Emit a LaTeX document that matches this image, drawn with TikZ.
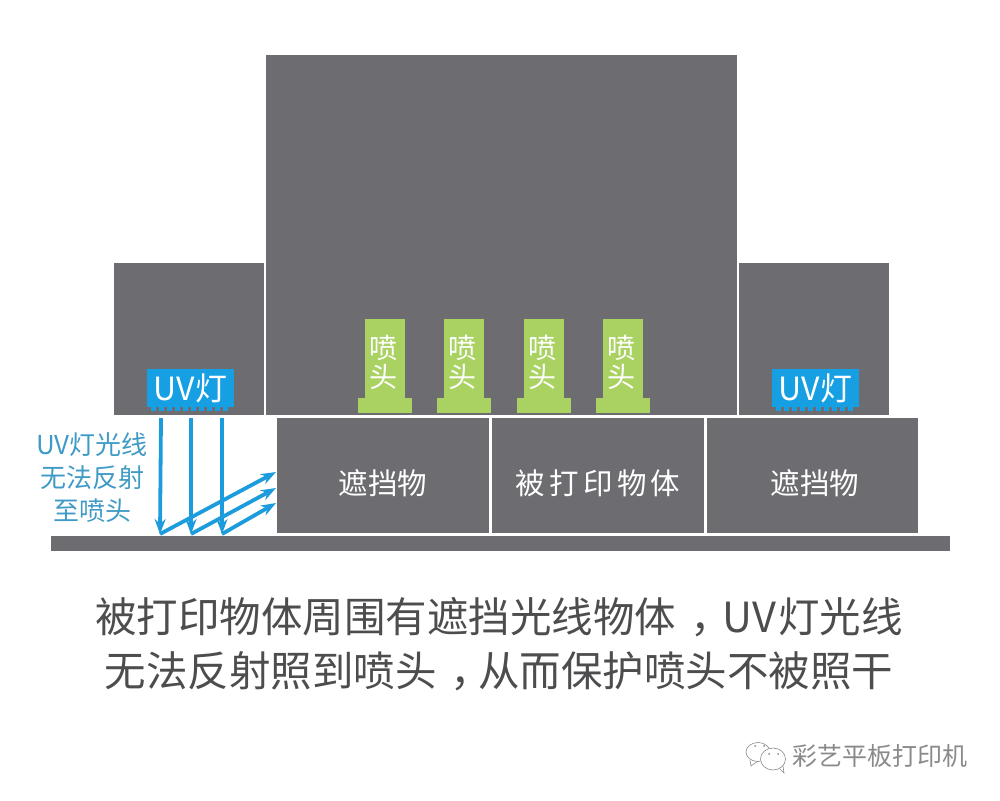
\documentclass[tikz,border=0pt]{standalone}
\usepackage{fontspec}
\setmainfont{Noto Sans CJK SC}
\usepackage{tikz}
\usetikzlibrary{arrows.meta,positioning,shapes.geometric}
\definecolor{bodygray}{HTML}{6D6C71}
\definecolor{lampblue}{HTML}{16A0E3}
\definecolor{rayblue}{HTML}{1C9CDC}
\definecolor{raylabel}{HTML}{3F9BC6}
\definecolor{nozzlegreen}{HTML}{A9D262}
\definecolor{captiongray}{HTML}{4D4D4F}
\definecolor{markgray}{HTML}{8A8A8A}
\newcommand{\lowtext}[1]{\raisebox{-18.5pt}[0pt][0pt]{#1}}
\newcommand{\nozzletext}{\hspace{-4pt}\rule{0pt}{32pt}喷\\\hspace{-4pt}头}
\newcommand{\midcomma}{\hspace{14pt}，\hspace{-14pt}}
\tikzset{
    grayblock/.style={fill=bodygray, anchor=north west, inner sep=0pt, outer sep=0pt, align=center, text=white, font=\fontsize{29.5}{34}\selectfont},
    nozzlestem/.style={fill=nozzlegreen, anchor=north west, inner sep=0pt, outer sep=0pt, align=center, text=white, minimum width=40pt, minimum height=79pt, font=\fontsize{28}{29}\selectfont},
    nozzlefoot/.style={fill=nozzlegreen, inner sep=0pt, outer sep=0pt, minimum width=54pt, minimum height=15pt},
    uvlamp/.style={fill=lampblue, anchor=north west, inner sep=0pt, outer sep=0pt, text=white, minimum width=87pt, minimum height=38pt, font=\fontsize{32}{34}\selectfont},
    lampteeth/.style={draw=lampblue, line width=4pt, dash pattern=on 5pt off 3pt},
    rayarrow/.style={draw=rayblue, line width=3.8pt, -{Stealth[length=15pt,width=11pt]}},
    raynote/.style={align=center, text=raylabel, font=\fontsize{26}{33}\selectfont},
    captionline/.style={text=captiongray, font=\fontsize{41.5}{54}\selectfont},
    markbubble/.style={ellipse, draw=markgray, line width=0.6pt, fill=white, inner sep=0pt, outer sep=0pt},
    markline/.style={draw=markgray, line width=0.6pt}
}
\begin{document}
\begin{tikzpicture}[x=1pt,y=-1pt]
    \useasboundingbox (0,0) rectangle (1000,800);

    \node[grayblock, minimum width=471pt, minimum height=360pt] (carriage) at (266,55) {};
    \node[grayblock, minimum width=150pt, minimum height=152pt] (headleft) at (114,263) {};
    \node[grayblock, minimum width=150pt, minimum height=152pt] (headright) at (739,263) {};
    \node[grayblock, minimum width=212pt, minimum height=115pt] (blockleft) at (277,418) {\lowtext{遮挡物}};
    \node[grayblock, minimum width=212pt, minimum height=115pt] (printed) at (492,418) {\lowtext{被\hspace{4.3pt}打\hspace{4.3pt}印\hspace{4.3pt}物\hspace{4.3pt}体}};
    \node[grayblock, minimum width=211pt, minimum height=115pt] (blockright) at (707,418) {\hspace{5pt}\lowtext{遮挡物}};
    \node[grayblock, minimum width=899pt, minimum height=15pt] (table) at (51,536) {};

    \node[nozzlestem] (stema) at (365,319) {\nozzletext};
    \node[nozzlestem] (stemb) at (444,319) {\nozzletext};
    \node[nozzlestem] (stemc) at (524,319) {\nozzletext};
    \node[nozzlestem] (stemd) at (603,319) {\nozzletext};
    \node[nozzlefoot, below=0pt of stema] (foota) {};
    \node[nozzlefoot, below=0pt of stemb] (footb) {};
    \node[nozzlefoot, below=0pt of stemc] (footc) {};
    \node[nozzlefoot, below=0pt of stemd] (footd) {};

    \node[uvlamp] (lampleft) at (147,369) {UV灯};
    \node[uvlamp] (lampright) at (772,369) {UV灯};
    \draw[lampteeth] ([xshift=4pt,yshift=-2pt]lampleft.south west) -- ([xshift=-4pt,yshift=-2pt]lampleft.south east);
    \draw[lampteeth] ([xshift=4pt,yshift=-2pt]lampright.south west) -- ([xshift=-4pt,yshift=-2pt]lampright.south east);

    \coordinate (topa) at (161,418);
    \coordinate (topb) at (191,418);
    \coordinate (topc) at (222,418);
    \coordinate (hita) at (160,534);
    \coordinate (hitb) at (191,534);
    \coordinate (hitc) at (222,534);
    \coordinate (outa) at (276,472);
    \coordinate (outb) at (276,488);
    \coordinate (outc) at (276,503);
    \draw[rayarrow] (topa) -- (hita);
    \draw[rayarrow] (topb) -- (hitb);
    \draw[rayarrow] (topc) -- (hitc);
    \draw[rayarrow] (hita) -- (outa);
    \draw[rayarrow] (hitb) -- (outb);
    \draw[rayarrow] (hitc) -- (outc);

    \node[raynote] (raytext) at (92,478) {UV灯光线\\无法反射\\至喷头};
    \node[captionline] (captiontop) at (499,617) {被打印物体周围有遮挡光线物体\midcomma{}\hspace{5pt}UV\hspace{2pt}灯光线};
    \node[captionline] (captionbottom) at (499,671) {无法反射照到喷头\midcomma{}从而保护喷头不被照干};

    \node[markbubble, minimum width=24pt, minimum height=19pt] (bubbleback) at (758,752) {};
    \draw[markline] (750,760) -- (751,766) -- (758,761);
    \node[markbubble, minimum width=25pt, minimum height=22pt] (bubblefront) at (773,759) {};
    \draw[markline] (780,769) -- (784,773) -- (783,766);
    \fill[markgray] (755,746) circle (1pt) (764,746) circle (1pt) (769,754) circle (1pt) (778,754) circle (1pt);
    \node[text=markgray, font=\fontsize{25}{28}\selectfont] (marktext) at (880,756) {彩艺平板打印机};
\end{tikzpicture}
\end{document}
